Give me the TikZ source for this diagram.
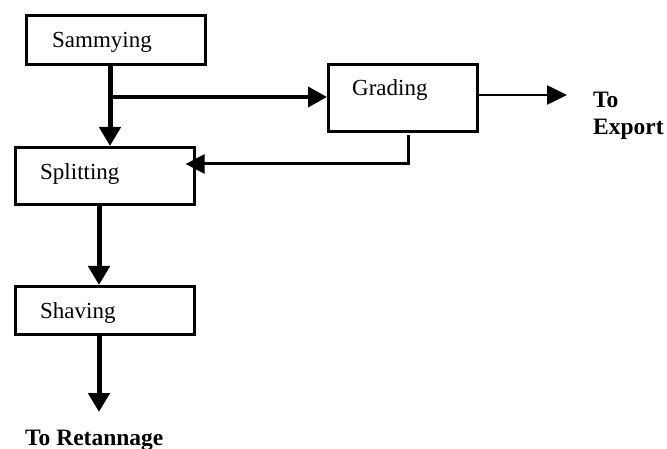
\documentclass[tikz,border=0pt]{standalone}
\usepackage{fontspec}
\setmainfont{Liberation Serif}
\usetikzlibrary{arrows.meta}
\begin{document}
\begin{tikzpicture}[x=1pt,y=-1pt,
  box/.style={draw,line width=2.6pt,inner sep=0pt,anchor=north west},
  lbl/.style={anchor=base west,inner sep=0pt,font=\fontsize{23}{27}\selectfont},
  blbl/.style={anchor=base west,inner sep=0pt,font=\fontsize{23.5}{27}\selectfont\bfseries},
  thick arrow/.style={line width=5pt,-{Triangle[width=21pt,length=19pt]}},
  mid arrow/.style={line width=3.8pt,-{Triangle[width=20pt,length=19pt]}},
  thin arrow/.style={line width=2.6pt,-{Triangle[width=19pt,length=20pt]}},
  fb arrow/.style={line width=3pt,-{Triangle[width=19pt,length=19pt]}}]
\useasboundingbox (0,0) rectangle (667,449);
% boxes
\node[box,minimum width=179pt,minimum height=49pt] (sam) at (25,14) {};
\node[box,minimum width=179pt,minimum height=57pt] (spl) at (14,146) {};
\node[box,minimum width=149pt,minimum height=67pt] (gra) at (327,63) {};
\node[box,minimum width=179pt,minimum height=48pt] (sha) at (14,285) {};
% labels
\node[lbl] (tsam) at (52,48) {Sammying};
\node[lbl] (tspl) at (40,180) {Splitting};
\node[lbl] (tgra) at (352,96) {Grading};
\node[lbl] (tsha) at (40,318) {Shaving};
\node[blbl] (tto) at (593,108) {To};
\node[blbl] (texp) at (593,135) {Export};
\node[blbl] (tret) at (25,445) {To Retannage};
% coordinates
\coordinate (b) at (110,97);
\coordinate (expend) at (567,95);
\coordinate (retend) at (99,412);
\coordinate (fb1) at (408,135);
\coordinate (fb2) at (408,164);
% connectors
\draw[thick arrow] (sam.south -| b) -- (spl.north -| b);
\draw[mid arrow] (b) -- (gra.west |- b);
\draw[thin arrow] (gra.east |- expend) -- (expend);
\draw[fb arrow] (fb1) -- (fb2) -- ([xshift=-10pt]spl.east |- fb2);
\draw[thick arrow] (spl.south -| retend) -- (sha.north -| retend);
\draw[thick arrow] (sha.south -| retend) -- (retend);
\end{tikzpicture}
\end{document}
